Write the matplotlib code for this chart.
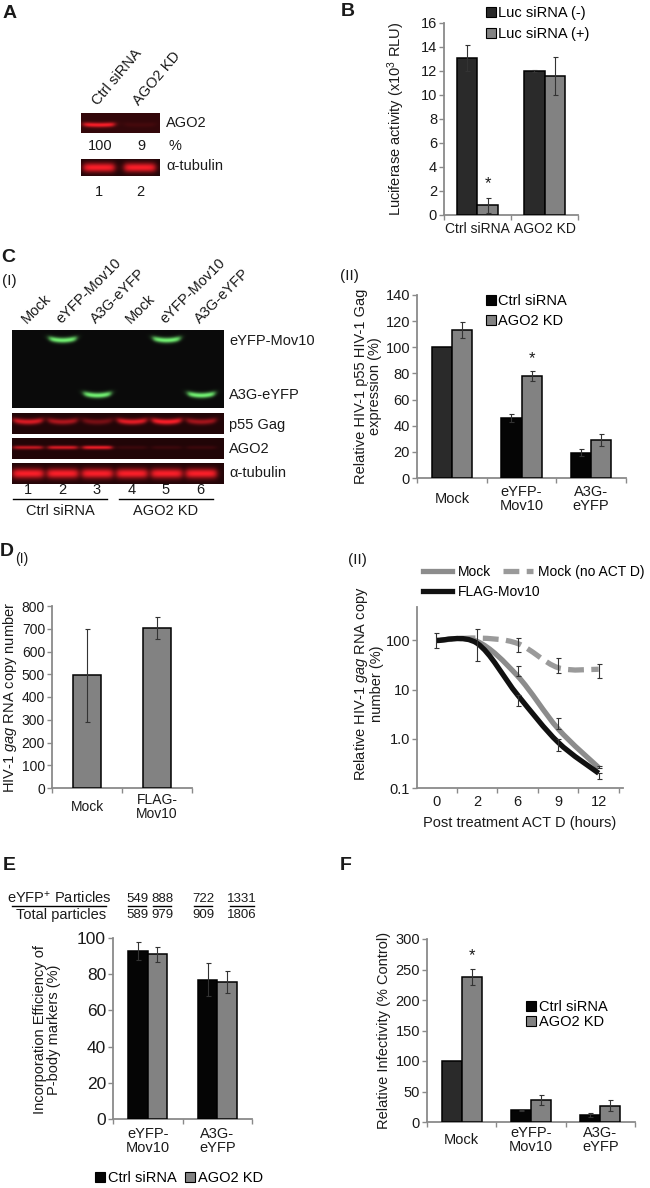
import numpy as np
import matplotlib
matplotlib.use('Agg')
import matplotlib.pyplot as plt
from matplotlib.path import Path
from matplotlib.patches import PathPatch, Patch
from matplotlib.lines import Line2D

# ---------------- data ----------------
# A
a_lanes = ['Ctrl siRNA', 'AGO2 KD']
a_lane_numbers = ['1', '2']
a_ago2_band = [1.0, 0.09]
a_ago2_pct = ['100', '9']
a_tub_band = [1.0, 1.0]

# B
b_cats = ['Ctrl siRNA', 'AGO2 KD']
b_minus = [13.1, 12.0]
b_minus_err = [1.1, 0.05]
b_plus = [0.8, 11.6]
b_plus_err = [0.6, 1.6]

# C(I)
c_lanes = ['Mock', 'eYFP-Mov10', 'A3G-eYFP', 'Mock', 'eYFP-Mov10', 'A3G-eYFP']
c_lane_numbers = ['1', '2', '3', '4', '5', '6']
c_mov10_band = [0, 1, 0, 0, 1, 0]
c_a3g_band = [0, 0, 1, 0, 0, 1]
c_gag_band = [0.85, 0.65, 0.4, 0.9, 1.0, 0.6]
c_ago2_band = [0.75, 0.85, 0.95, 0.12, 0.12, 0.12]
c_tub_band = [1, 1, 1, 1, 1, 1]

# C(II)
c2_cats = ['Mock', 'eYFP-\nMov10', 'A3G-\neYFP']
c2_ctrl = [100, 46, 19.5]
c2_ctrl_err = [0, 3, 2.5]
c2_kd = [113, 78, 29]
c2_kd_err = [6, 4, 4.5]

# D(I)
d1_cats = ['Mock', 'FLAG-\nMov10']
d1_vals = [495, 705]
d1_err = [205, 48]

# D(II)
d2_times = ['0', '2', '6', '9', '12']
d2_mock = [100, 96, 19, 1.6, 0.26]
d2_flag = [100, 88, 7.8, 0.85, 0.2]
d2_noact = [100, 112, 87, 28, 26]
d2_mock_err_lo = [31, 0, 0, 0, 0]
d2_mock_err_hi = [39, 0, 11, 1.1, 0.02]
d2_flag_err_lo = [0, 0, 3.1, 0.28, 0.05]
d2_flag_err_hi = [0, 0, 0, 0.15, 0]
d2_noact_err_lo = [0, 73, 30, 6, 9]
d2_noact_err_hi = [0, 63, 28, 17, 8]

# E
e_cats = ['eYFP-\nMov10', 'A3G-\neYFP']
e_ctrl = [93, 77]
e_ctrl_err = [5, 9]
e_kd = [91, 75.5]
e_kd_err = [4, 6]
e_pos = ['549', '888', '722', '1331']
e_tot = ['589', '979', '909', '1806']

# F
f_cats = ['Mock', 'eYFP-\nMov10', 'A3G-\neYFP']
f_ctrl = [100, 19, 12]
f_ctrl_err = [0, 1, 3]
f_kd = [238, 36, 27]
f_kd_err = [13, 8, 9]

# ---------------- style ----------------
plt.rcParams['font.family'] = ['Liberation Sans', 'DejaVu Sans']
plt.rcParams['font.size'] = 10.5
plt.rcParams['mathtext.fontset'] = 'custom'
plt.rcParams['mathtext.rm'] = 'Liberation Sans'
plt.rcParams['mathtext.it'] = 'Liberation Sans:italic'

W, H = 650, 1188
fig = plt.figure(figsize=(6.5, 11.88), dpi=100)
TXT = '#1a1a1a'
SPINE = '#8a8a8a'
GREY = '#828282'
DARK = '#2a2a2a'
BLACK = '#050505'


def axpx(x0, y0, x1, y1):
    return fig.add_axes([x0 / W, 1 - y1 / H, (x1 - x0) / W, (y1 - y0) / H])


def ftext(x, y, s, **kw):
    kw.setdefault('color', TXT)
    return fig.text(x / W, 1 - y / H, s, **kw)


def fline(x0, x1, y, lw=1.0):
    fig.add_artist(Line2D([x0 / W, x1 / W], [1 - y / H, 1 - y / H],
                          transform=fig.transFigure, color='black', lw=lw))


def style(ax, labelpad, fs=10.5, yfs=None):
    for s in ['top', 'right']:
        ax.spines[s].set_visible(False)
    for s in ['left', 'bottom']:
        ax.spines[s].set_color(SPINE)
        ax.spines[s].set_linewidth(1.3)
    ax.tick_params(which='major', colors=SPINE, labelcolor=TXT, length=3.5,
                   width=1.0, labelsize=fs, pad=1.5)
    if yfs is not None:
        ax.tick_params(axis='y', labelsize=yfs)
    ax.tick_params(axis='x', which='minor', length=0, pad=labelpad, labelsize=fs,
                   labelcolor=TXT)
    for lab in ax.get_xticklabels(minor=True):
        lab.set_va('center')
        lab.set_linespacing(1.0)


def cat_axis(ax, cats, labelpad, fs=10.5, yfs=None):
    n = len(cats)
    ax.set_xlim(-0.5, n - 0.5)
    ax.set_xticks(np.arange(-0.5, n), labels=[''] * (n + 1))
    ax.set_xticks(np.arange(n), labels=cats, minor=True)
    style(ax, labelpad, fs, yfs)


def errs(ax, x, v, e, lo=None):
    ekw = dict(fmt='none', ecolor='#333333', elinewidth=0.8, capsize=1.8,
               capthick=0.8, zorder=5)
    x = np.asarray(x, float)
    v = np.asarray(v, float)
    e = np.asarray(e, float)
    lo = e if lo is None else np.asarray(lo, float)
    m = (e > 0) | (lo > 0)
    if m.any():
        ax.errorbar(x[m], v[m], yerr=[lo[m], e[m]], **ekw)


def grouped(ax, cats, v1, e1, v2, e2, c1, width):
    x = np.arange(len(cats))
    ax.bar(x - width / 2, v1, width, color=c1, edgecolor='black', linewidth=1.1, zorder=3)
    ax.bar(x + width / 2, v2, width, color=GREY, edgecolor='black', linewidth=1.1, zorder=3)
    errs(ax, x - width / 2, v1, e1)
    errs(ax, x + width / 2, v2, e2)
    return x


def blot(ax, lanes, bands, xlim, bg, col, npx=(300, 80)):
    nx, ny = npx
    xs = np.linspace(xlim[0], xlim[1], nx)
    ys = np.linspace(0, 1, ny)
    X, Y = np.meshgrid(xs, ys)
    img = np.zeros((ny, nx))
    for vals, yc0, sy, hw, smile in bands:
        for lx, v in zip(lanes, vals):
            dx = (X - lx) / hw
            px = 1.0 / (1.0 + np.exp((np.abs(dx) - 1.0) * 9.0))
            yc = yc0 - smile * dx ** 2
            img += v * px * np.exp(-((Y - yc) / sy) ** 2)
    bg = np.array(bg)
    col = np.array(col)
    rgb = bg[None, None, :] + np.clip(img, 0, 1.3)[..., None] * (col - bg)[None, None, :]
    rgb = np.clip(rgb, 0, 1)
    ax.imshow(rgb, extent=(xlim[0], xlim[1], 1, 0), aspect='auto', interpolation='bilinear')
    ax.set_xlim(*xlim)
    ax.set_ylim(1, 0)
    ax.axis('off')


RED = (0.98, 0.12, 0.16)
REDBG = (0.13, 0.02, 0.03)
GREEN = (0.45, 0.95, 0.45)
GREENBG = (0.04, 0.04, 0.04)

# ---------------- Panel A ----------------
ftext(10, 14, 'A', fontsize=14, fontweight='bold', ha='center', va='center')
a_x = np.arange(len(a_lanes))
a_xlim = (-0.44, 1.49)
ax = axpx(81, 113, 160, 133)
blot(ax, a_x, [(a_ago2_band, 0.6, 0.12, 0.38, 0.03)], a_xlim, (0.2, 0.03, 0.04), RED, (240, 60))
ax = axpx(81, 159, 160, 176)
blot(ax, a_x, [(a_tub_band, 0.5, 0.28, 0.38, 0.0)], a_xlim, REDBG, RED, (240, 60))
for i, (lab, num, pct) in enumerate(zip(a_lanes, a_lane_numbers, a_ago2_pct)):
    cx = 99 + 41 * i
    ftext(cx - 1, 106, lab, rotation=50, rotation_mode='anchor', ha='left', va='baseline')
    ftext(cx + 1, 146, pct, ha='center', va='center')
    ftext(cx, 192, num, ha='center', va='center')
ftext(175, 146, '%', ha='center', va='center')
ftext(166, 123, 'AGO2', ha='left', va='center')
ftext(166, 166, 'α-tubulin', ha='left', va='center')

# ---------------- Panel B ----------------
ftext(348, 12, 'B', fontsize=14, fontweight='bold', ha='center', va='center')
ax = axpx(444, 23, 578, 215)
x = grouped(ax, b_cats, b_minus, b_minus_err, b_plus, b_plus_err, DARK, 0.3)
ax.set_ylim(0, 16)
ax.set_yticks(np.arange(0, 17, 2))
cat_axis(ax, b_cats, 10, fs=10)
ax.tick_params(axis='y', labelsize=10.5)
ax.text(x[0] + 0.15, 2.6, '*', ha='center', va='center', fontsize=12, color=TXT)
ftext(396, 119, 'Luciferase activity (x10$^3$ RLU)', rotation=90, ha='center', va='center')
ax.legend([Patch(facecolor=DARK, edgecolor='black', lw=0.8),
           Patch(facecolor=GREY, edgecolor='black', lw=0.8)],
          ['Luc siRNA (-)', 'Luc siRNA (+)'], loc='upper left',
          bbox_to_anchor=(486 / W, 1 - 6 / H), bbox_transform=fig.transFigure,
          frameon=False, handlelength=0.7, handleheight=0.7, handletextpad=0.15,
          labelspacing=0.5, borderpad=0, borderaxespad=0, fontsize=10.5)

# ---------------- Panel C(I) ----------------
ftext(8, 258, 'C', fontsize=14, fontweight='bold', ha='center', va='center')
ftext(2, 281, '(I)', ha='left', va='center', fontsize=11)
c_x = np.arange(len(c_lanes))
c_xlim = (-0.46, 5.65)
ax = axpx(12, 330, 223, 408)
blot(ax, c_x, [(c_mov10_band, 0.13, 0.035, 0.39, 0.025),
               (c_a3g_band, 0.84, 0.035, 0.39, 0.025)], c_xlim, GREENBG, GREEN, (600, 220))
ax = axpx(12, 413, 223, 434)
blot(ax, c_x, [(c_gag_band, 0.42, 0.14, 0.42, 0.08)], c_xlim, REDBG, RED, (600, 60))
ax = axpx(12, 438, 223, 459)
blot(ax, c_x, [(c_ago2_band, 0.45, 0.09, 0.42, 0.0)], c_xlim, REDBG, RED, (600, 60))
ax = axpx(12, 463, 223, 484)
blot(ax, c_x, [(c_tub_band, 0.5, 0.24, 0.44, 0.0)], c_xlim, REDBG, RED, (600, 60))
for i, (lab, num) in enumerate(zip(c_lanes, c_lane_numbers)):
    cx = 28 + 34.5 * i
    ftext(cx - 1, 324, lab, rotation=45, rotation_mode='anchor', ha='left', va='baseline')
    ftext(cx, 490, num, ha='center', va='center')
fline(13, 107, 499)
fline(119, 213, 499)
ftext(60, 511, 'Ctrl siRNA', ha='center', va='center')
ftext(166, 511, 'AGO2 KD', ha='center', va='center')
ftext(229, 341, 'eYFP-Mov10', ha='left', va='center')
ftext(229, 395, 'A3G-eYFP', ha='left', va='center')
ftext(229, 425, 'p55 Gag', ha='left', va='center')
ftext(229, 449, 'AGO2', ha='left', va='center')
ftext(229, 473, 'α-tubulin', ha='left', va='center')

# ---------------- Panel C(II) ----------------
ftext(349, 276, '(II)', ha='center', va='center', fontsize=11)
ax = axpx(417, 295, 626, 478)
x = grouped(ax, c2_cats, c2_ctrl, c2_ctrl_err, c2_kd, c2_kd_err,
            [DARK, BLACK, BLACK], 0.29)
ax.set_ylim(0, 140)
ax.set_yticks(np.arange(0, 141, 20))
cat_axis(ax, c2_cats, 15)
ax.text(x[1] + 0.145, 91, '*', ha='center', va='center', fontsize=12, color=TXT)
ftext(368, 386, 'Relative HIV-1 p55 HIV-1 Gag\nexpression (%)', rotation=90,
      ha='center', va='center', linespacing=1.05)
ax.legend([Patch(facecolor=BLACK, edgecolor='black', lw=0.8),
           Patch(facecolor=GREY, edgecolor='black', lw=0.8)],
          ['Ctrl siRNA', 'AGO2 KD'], loc='upper left',
          bbox_to_anchor=(486 / W, 1 - 294 / H), bbox_transform=fig.transFigure,
          frameon=False, handlelength=0.7, handleheight=0.7, handletextpad=0.15,
          labelspacing=0.4, borderpad=0, borderaxespad=0, fontsize=10.5)

# ---------------- Panel D(I) ----------------
ftext(7, 551, 'D', fontsize=14, fontweight='bold', ha='center', va='center')
ftext(22, 559, '(I)', ha='center', va='center', fontsize=10)
ax = axpx(52, 606, 192, 788)
x = np.arange(len(d1_cats))
ax.bar(x, d1_vals, 0.41, color=GREY, edgecolor='black', linewidth=1.1, zorder=3)
errs(ax, x, d1_vals, d1_err)
ax.set_ylim(0, 800)
ax.set_yticks(np.arange(0, 801, 100))
cat_axis(ax, d1_cats, 13.5, fs=10)
ftext(10, 697, 'HIV-1 $\\mathit{gag}$ RNA copy number', rotation=90, ha='center', va='center')

# ---------------- Panel D(II) ----------------
ftext(357, 560, '(II)', ha='center', va='center', fontsize=11)
ax = axpx(417, 607, 623, 788)
ax.set_yscale('log')
ax.set_ylim(0.1, 480)
n = len(d2_times)
tx = np.arange(n)


def smooth(ax, xs, ys, **kw):
    P = np.column_stack([xs, np.log10(ys)])
    Pe = np.vstack([P[0], P, P[-1]])
    verts = [P[0]]
    codes = [Path.MOVETO]
    for i in range(len(P) - 1):
        p0, p1, p2, p3 = Pe[i], Pe[i + 1], Pe[i + 2], Pe[i + 3]
        c1 = p1 + (p2 - p0) / 6.0
        c2 = p2 - (p3 - p1) / 6.0
        verts += [c1, c2, p2]
        codes += [Path.CURVE4] * 3
    verts = np.array(verts)
    verts[:, 1] = 10 ** verts[:, 1]
    ax.add_patch(PathPatch(Path(verts, codes), fill=False, **kw))


MOCKC = '#8c8c8c'
NOACTC = '#9a9a9a'
FLAGC = '#111111'
DASH = (0, (3.0, 1.4))
smooth(ax, tx, d2_noact, edgecolor=NOACTC, lw=3.8, linestyle=DASH, capstyle='butt', zorder=3)
smooth(ax, tx, d2_mock, edgecolor=MOCKC, lw=3.8, zorder=3)
smooth(ax, tx, d2_flag, edgecolor=FLAGC, lw=3.8, zorder=4)
errs(ax, tx, d2_noact, d2_noact_err_hi, d2_noact_err_lo)
errs(ax, tx, d2_mock, d2_mock_err_hi, d2_mock_err_lo)
errs(ax, tx, d2_flag, d2_flag_err_hi, d2_flag_err_lo)
ax.set_yticks([0.1, 1, 10, 100], labels=['0.1', '1.0', '10', '100'])
ax.yaxis.set_minor_locator(matplotlib.ticker.NullLocator())
ax.set_xlim(-0.48, 4.6)
ax.set_xticks(np.arange(0.5, n), labels=[''] * n)
ax.set_xticks(tx, labels=d2_times, minor=True)
style(ax, 10, fs=10.5)
ftext(520, 823, 'Post treatment ACT D (hours)', ha='center', va='center')
ftext(368, 684, 'Relative HIV-1 $\\mathit{gag}$ RNA copy\nnumber (%)', rotation=90,
      ha='center', va='center', linespacing=1.05)
leg1 = ax.legend([Line2D([], [], color=MOCKC, lw=3.8),
                  Line2D([], [], color=NOACTC, lw=3.8, linestyle=DASH)],
                 ['Mock', 'Mock (no ACT D)'], ncol=2, loc='upper left',
                 bbox_to_anchor=(423 / W, 1 - 565 / H), bbox_transform=fig.transFigure,
                 frameon=False, handlelength=2.1, handletextpad=0.4, columnspacing=0.9,
                 borderpad=0, borderaxespad=0, fontsize=10)
ax.add_artist(leg1)
ax.legend([Line2D([], [], color=FLAGC, lw=3.8)], ['FLAG-Mov10'], loc='upper left',
          bbox_to_anchor=(423 / W, 1 - 585 / H), bbox_transform=fig.transFigure,
          frameon=False, handlelength=2.1, handletextpad=0.4,
          borderpad=0, borderaxespad=0, fontsize=10)

# ---------------- Panel E ----------------
ftext(9, 865, 'E', fontsize=14, fontweight='bold', ha='center', va='center')
ftext(59, 898, 'eYFP$^{+}$ Particles', ha='center', va='center')
fline(12, 106, 906)
ftext(61, 915, 'Total particles', ha='center', va='center')
for cx, p, t in zip([137, 162, 203, 242], e_pos, e_tot):
    ftext(cx, 899, p, ha='center', va='center', fontsize=9.5)
    wpx = 6.0 * len(p)
    fline(cx - wpx / 2, cx + wpx / 2, 906)
    ftext(cx, 915, t, ha='center', va='center', fontsize=9.5)
ax = axpx(113, 938, 252, 1119)
x = grouped(ax, e_cats, e_ctrl, e_ctrl_err, e_kd, e_kd_err, BLACK, 0.28)
ax.set_ylim(0, 100)
ax.set_yticks(np.arange(0, 101, 20))
cat_axis(ax, e_cats, 16, fs=10.5, yfs=12.5)
ftext(47, 1030, 'Incorporation Efficiency of\nP-body markers (%)', rotation=90,
      ha='center', va='center', linespacing=1.05, fontsize=10.5)
ax.legend([Patch(facecolor=BLACK, edgecolor='black', lw=0.8),
           Patch(facecolor=GREY, edgecolor='black', lw=0.8)],
          ['Ctrl siRNA', 'AGO2 KD'], ncol=2, loc='center',
          bbox_to_anchor=(179 / W, 1 - 1178 / H), bbox_transform=fig.transFigure,
          frameon=False, handlelength=0.7, handleheight=0.7, handletextpad=0.2,
          columnspacing=0.6, borderpad=0, borderaxespad=0, fontsize=10.5)

# ---------------- Panel F ----------------
ftext(346, 866, 'F', fontsize=14, fontweight='bold', ha='center', va='center')
ax = axpx(427, 939, 635, 1122)
x = grouped(ax, f_cats, f_ctrl, f_ctrl_err, f_kd, f_kd_err, [DARK, BLACK, BLACK], 0.29)
ax.set_ylim(0, 300)
ax.set_yticks(np.arange(0, 301, 50))
cat_axis(ax, f_cats, 13)
ax.text(x[0] + 0.145, 272, '*', ha='center', va='center', fontsize=12, color=TXT)
ftext(384, 1030, 'Relative Infectivity (% Control)', rotation=90, ha='center', va='center')
ax.legend([Patch(facecolor=BLACK, edgecolor='black', lw=0.8),
           Patch(facecolor=GREY, edgecolor='black', lw=0.8)],
          ['Ctrl siRNA', 'AGO2 KD'], loc='upper left',
          bbox_to_anchor=(526 / W, 1 - 1000 / H), bbox_transform=fig.transFigure,
          frameon=False, handlelength=0.7, handleheight=0.7, handletextpad=0.2,
          labelspacing=0.1, borderpad=0, borderaxespad=0, fontsize=10.5)

fig.savefig('out.png', dpi=100)
